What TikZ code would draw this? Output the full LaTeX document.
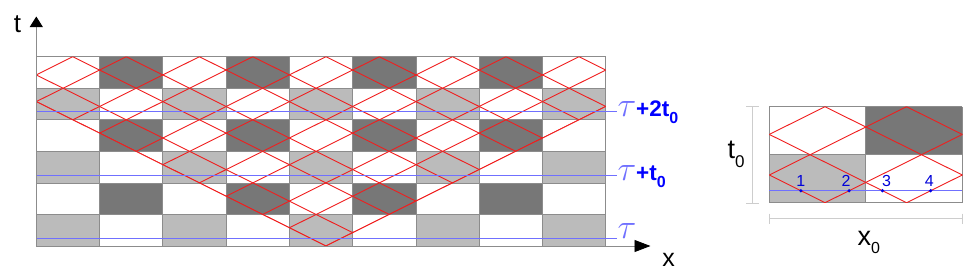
\documentclass[tikz,border=0pt]{standalone}
\usepackage{fontspec}
\setmainfont{Liberation Sans}
\usetikzlibrary{arrows.meta}
\definecolor{darkcell}{RGB}{119,119,119}
\definecolor{lightcell}{RGB}{187,187,187}
\definecolor{cellline}{RGB}{140,140,140}
\definecolor{chr}{RGB}{240,30,30}
\definecolor{lblue}{RGB}{112,112,255}
\definecolor{sblue}{RGB}{0,0,255}
\definecolor{dimgray}{RGB}{205,205,205}
\newcommand\mytau{\scalebox{1.4}{\fontsize{24.88}{25}\selectfont$\tau$}}
\newcommand\subz[2]{\raisebox{#1}{\fontsize{#2}{#2}\selectfont 0}}
\tikzset{
  cellgrid/.style={draw=cellline, line width=0.8pt},
  charline/.style={draw=chr, line width=0.9pt},
  tline/.style={draw=lblue, line width=1pt},
  axisline/.style={draw=cellline, line width=0.9pt},
  dimline/.style={draw=dimgray, line width=0.9pt},
  lab/.style={inner sep=0pt, outer sep=0pt},
}
\begin{document}
\begin{tikzpicture}[x=1pt,y=-1pt]
\useasboundingbox[fill=white] (0,0) rectangle (969,274);

% ---------------- main grid ----------------
\begin{scope}[shift={(36.3,56.7)}, x=63.27pt, y=-31.55pt]
  \foreach \r in {0,2,4} {\foreach \c in {1,3,5,7} {\fill[darkcell] (\c,\r) rectangle ++(1,1);}}
  \foreach \r in {1,3,5} {\foreach \c in {0,2,4,6,8} {\fill[lightcell] (\c,\r) rectangle ++(1,1);}}
  \foreach \c in {0,...,9} {\draw[cellgrid] (\c,0) -- (\c,6);}
  \foreach \r in {0,...,6} {\draw[cellgrid] (0,\r) -- (9,\r);}
  \begin{scope}
    \clip (0,0) -- (9,0) -- (9,1.5774) -- (4.5774,6) -- (0,1.4226) -- cycle;
    \foreach \k in {0,...,5} {
      \draw[charline] ({2*\k+0.5774},0) -- ++(-6,6);
      \draw[charline] ({2*\k+1.4226},0) -- ++(-6,6);
    }
    \foreach \k in {-5,...,0} {
      \draw[charline] ({-(2*\k+0.5774)},0) -- ++(6,6);
      \draw[charline] ({-(2*\k+1.4226)},0) -- ++(6,6);
    }
  \end{scope}
  \draw[charline] (0,1.4226) -- (4.5774,6) -- (9,1.5774);
\end{scope}

% time lines
\draw[tline] (36.3,238.1) -- (617,238.1);
\draw[tline] (36.3,175.0) -- (617,175.0);
\draw[tline] (36.3,111.9) -- (617,111.9);
\node[lab, anchor=base west] (tau0) at (617.5,238.5) {\color{lblue}\mytau};
\node[lab, anchor=base west] (tau1) at (617.5,180) {{\color{lblue}\mytau}{\color{sblue}\fontsize{22.5}{22}\selectfont\bfseries +t\subz{-7pt}{16}}};
\node[lab, anchor=base west] (tau2) at (617.5,116.5) {{\color{lblue}\mytau}{\color{sblue}\fontsize{22.5}{22}\selectfont\bfseries +2t\subz{-7pt}{16}}};

% axes
\coordinate (O) at (36.3,246);
\coordinate (ttip) at (36.3,16.5);
\coordinate (xtip) at (650.5,246);
\draw[axisline, -{Triangle[length=10.5pt,width=13pt,color=black]}] (O) -- (ttip);
\draw[axisline, -{Triangle[length=16pt,width=12pt,color=black]}] (O) -- (xtip);
\node[lab, anchor=base] (tlab) at (17.5,32) {\fontsize{26}{26}\selectfont t};
\node[lab, anchor=base] (xlab) at (668.5,266) {\fontsize{25}{25}\selectfont x};

% ---------------- inset cell ----------------
\begin{scope}[shift={(769.3,106.7)}, x=96.5pt, y=-48pt]
  \fill[darkcell] (1,0) rectangle (2,1);
  \fill[lightcell] (0,1) rectangle (1,2);
  \foreach \c in {0,1,2} {\draw[cellgrid] (\c,0) -- (\c,2);}
  \foreach \r in {0,1,2} {\draw[cellgrid] (0,\r) -- (2,\r);}
  \draw[tline] (0,1.75) -- (2,1.75);
  \begin{scope}
    \clip (0,0) rectangle (2,2);
    \foreach \c in {0.5774,1.4226,2.5774,3.4226} {\draw[charline] (\c,0) -- ++(-2,2);}
    \foreach \c in {1.4226,0.5774,-0.5774,-1.4226} {\draw[charline] (\c,0) -- ++(2,2);}
  \end{scope}
  \foreach \n/\u/\dx in {1/0.3274/0, 2/0.8274/-3, 3/1.1726/4, 4/1.6726/-1.5} {
    \fill[sblue!90!black] (\u,1.75) circle[radius=1.8pt];
    \node[lab, text=sblue!85!black, anchor=base] (p\n) at ([xshift=\dx pt]\u,1.75) [yshift=4pt] {\fontsize{16}{16}\selectfont\n};
  }
\end{scope}

% dimension marks
\coordinate (ta) at (752.3,106.7);
\coordinate (tb) at (752.3,203.3);
\draw[dimline] (ta) -- (tb);
\draw[dimline] (746,106.7) -- (758.5,106.7);
\draw[dimline] (746,203.3) -- (758.5,203.3);
\coordinate (xa) at (769.3,218.3);
\coordinate (xb) at (962.3,218.3);
\draw[dimline] (xa) -- (xb);
\draw[dimline] (769.3,213.5) -- (769.3,223.5);
\draw[dimline] (962.3,213.5) -- (962.3,223.5);
\node[lab, anchor=base west] (t0lab) at (727.5,158) {\fontsize{27}{27}\selectfont t\subz{-9pt}{17}};
\node[lab, anchor=base west] (x0lab) at (857.5,245) {\fontsize{27}{27}\selectfont x\subz{-8pt}{16}};
\end{tikzpicture}
\end{document}
